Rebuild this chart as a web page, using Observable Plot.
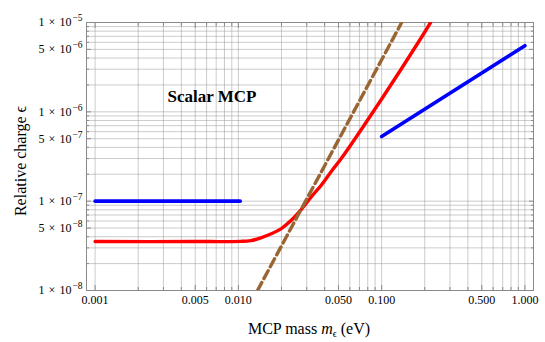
<!DOCTYPE html>
<html><head><meta charset="utf-8">
<script src="https://cdn.jsdelivr.net/npm/d3@7"></script>
<script src="https://cdn.jsdelivr.net/npm/@observablehq/plot@0.6"></script>
<style>
body{margin:0;background:#fff}
#chart{width:545px;height:342px}
</style>
</head><body><div id="chart"></div>
<script>
// ---- data ----
const blueLow = [{m:0.001, eps:1e-7},{m:0.0103, eps:1e-7}];
const blueHigh = [{m:0.1, eps:5.3e-7},{m:1.0, eps:5.5e-6}];
const redCurve = [
  {m:0.001, eps:3.53e-8},{m:0.005, eps:3.53e-8},{m:0.0104, eps:3.55e-8},
  {m:0.0122, eps:3.62e-8},{m:0.01437, eps:3.89e-8},{m:0.01982, eps:4.9e-8},
  {m:0.02328, eps:6.07e-8},{m:0.02735, eps:8.0e-8},{m:0.03214, eps:1.107e-7},
  {m:0.03775, eps:1.497e-7},{m:0.04558, eps:2.26e-7},{m:0.05209, eps:2.98e-7},
  {m:0.1019, eps:1.458e-6},{m:0.1837, eps:6.29e-6},{m:0.2195, eps:1e-5}
];
const brownDashed = [{m:0.0136, eps:1e-8},{m:0.138, eps:1e-5}];
const xTickValues = [0.001,0.005,0.01,0.05,0.1,0.5,1];
const xTickLabels = ["0.001","0.005","0.010","0.050","0.100","0.500","1.000"];
const yTickValues = [1e-8,5e-8,1e-7,5e-7,1e-6,5e-6,1e-5];
const yTickLabels = ["1×10^-8","5×10^-8","1×10^-7","5×10^-7","1×10^-6","5×10^-6","1×10^-5"];
const annotations = [{label:"Scalar MCP", m:0.0032, eps:1.5e-6}];
const xTitle = ["MCP mass ", "m", "ϵ", " (eV)"];
const yTitle = "Relative charge ϵ";

// grid positions (1..9 per decade)
const mults = [1,2,3,4,5,6,7,8,9];
const xGrid = [];
[-3,-2,-1].forEach(k => mults.forEach(a => xGrid.push(+(a*Math.pow(10,k)).toPrecision(3))));
xGrid.push(1);
const yGrid = [];
[-8,-7,-6].forEach(k => mults.forEach(a => yGrid.push(+(a*Math.pow(10,k)).toPrecision(3))));
yGrid.push(1e-5);
const xMinor = xGrid.filter(v => !xTickValues.includes(v));
const yMinor = yGrid.filter(v => !yTickValues.includes(v));

const serif = '"Liberation Serif","Times New Roman",serif';
const tickColor = "#8a8a8a";

const plot = Plot.plot({
  width:545, height:342,
  marginLeft:86, marginRight:12, marginTop:22, marginBottom:52,
  style:{fontFamily:serif, fontSize:"12px", background:"#fff", color:"#000"},
  x:{type:"log", domain:[Math.pow(10,-3.06), Math.pow(10,0.06)], axis:null},
  y:{type:"log", domain:[1e-8,1e-5], axis:null},
  marks:[
    Plot.gridX(xGrid, {stroke:"#999", strokeOpacity:0.5, strokeWidth:1}),
    Plot.gridY(yGrid, {stroke:"#999", strokeOpacity:0.5, strokeWidth:1}),
    // inward ticks on all four sides
    Plot.axisX(xTickValues, {anchor:"bottom", tickSize:5, dy:-5, tickFormat:()=>"", stroke:tickColor, label:null}),
    Plot.axisX(xMinor, {anchor:"bottom", tickSize:3, dy:-3, tickFormat:()=>"", stroke:tickColor, label:null}),
    Plot.axisX(xTickValues, {anchor:"top", tickSize:5, dy:5, tickFormat:()=>"", stroke:tickColor, label:null}),
    Plot.axisX(xMinor, {anchor:"top", tickSize:3, dy:3, tickFormat:()=>"", stroke:tickColor, label:null}),
    Plot.axisY(yTickValues, {anchor:"left", tickSize:5, dx:5, tickFormat:()=>"", stroke:tickColor, label:null}),
    Plot.axisY(yMinor, {anchor:"left", tickSize:3, dx:3, tickFormat:()=>"", stroke:tickColor, label:null}),
    Plot.axisY(yTickValues, {anchor:"right", tickSize:5, dx:-5, tickFormat:()=>"", stroke:tickColor, label:null}),
    Plot.axisY(yMinor, {anchor:"right", tickSize:3, dx:-3, tickFormat:()=>"", stroke:tickColor, label:null}),
    // tick labels
    Plot.text(xTickValues, {x:d=>d, text:(d,i)=>xTickLabels[i], frameAnchor:"bottom", lineAnchor:"top", dy:5, fontSize:12, fill:"#000"}),
    Plot.text(yTickValues, {y:d=>d, text:(d,i)=>yTickLabels[i], frameAnchor:"left", textAnchor:"end", dx:-4, fontSize:12, fill:"#000"}),
    Plot.frame({stroke:tickColor}),
    Plot.line(blueLow, {x:"m", y:"eps", stroke:"#0000ff", strokeWidth:3.6}),
    Plot.line(blueHigh, {x:"m", y:"eps", stroke:"#0000ff", strokeWidth:3.6}),
    Plot.line(redCurve, {x:"m", y:"eps", stroke:"#ff0000", strokeWidth:3.4, curve:"catmull-rom", clip:true}),
    Plot.line(brownDashed, {x:"m", y:"eps", stroke:"#996633", strokeWidth:3.4, strokeDasharray:"9,4.5", clip:true}),
    Plot.text(annotations, {x:"m", y:"eps", text:"label", textAnchor:"start", fontWeight:"bold", fontSize:17, fontFamily:serif, fill:"#000"})
  ]
});

const svg = d3.select(plot);
// "a×10^-n" tick labels -> spaced times sign and superscript exponent
svg.selectAll("text").each(function(){
  const t = this.textContent;
  if (/\^/.test(t)) {
    const [base, exp] = t.split("^");
    const [mant, ten] = base.split("×");
    const el = d3.select(this);
    el.text(null);
    el.append("tspan").text(mant);
    el.append("tspan").attr("dx","4px").text("×");
    el.append("tspan").attr("dx","4px").text(ten);
    el.append("tspan").attr("dx","1px").attr("dy","-5px").attr("font-size","9.5px").text(exp.replace("-","−"));
  }
});
// axis titles
svg.append("text")
  .attr("transform","translate(26,161) rotate(-90)")
  .attr("text-anchor","middle").attr("font-family",serif).attr("font-size","16px").attr("fill","#000")
  .text(yTitle);
const xt = svg.append("text")
  .attr("x",309).attr("y",334).attr("text-anchor","middle")
  .attr("font-family",serif).attr("font-size","16px").attr("fill","#000");
xt.append("tspan").text(xTitle[0]);
xt.append("tspan").attr("font-style","italic").text(xTitle[1]);
xt.append("tspan").attr("dy","3px").attr("font-size","10px").text(xTitle[2]);
xt.append("tspan").attr("dy","-3px").text(xTitle[3]);

document.getElementById("chart").append(plot);
</script>
</body></html>
